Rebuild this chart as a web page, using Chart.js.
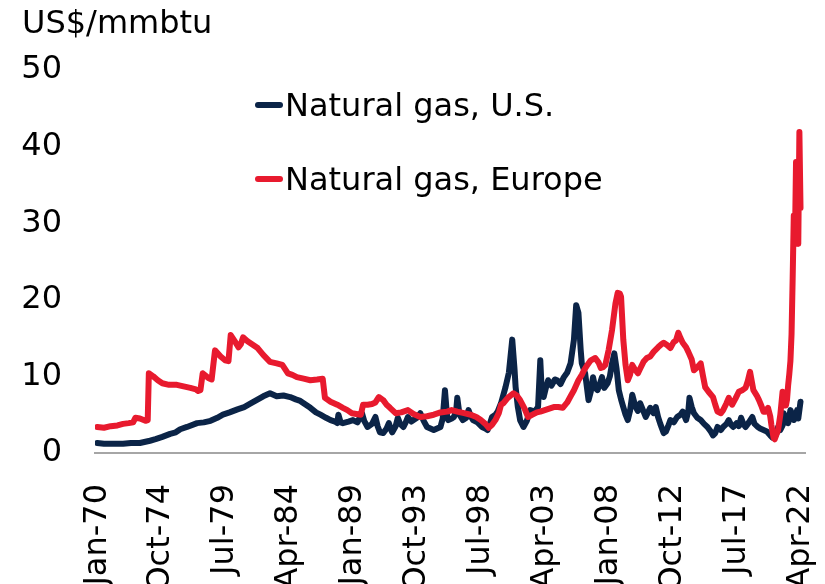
<!DOCTYPE html>
<html><head><meta charset="utf-8">
<script src="https://cdn.jsdelivr.net/npm/chart.js@4/dist/chart.umd.min.js"></script>
<style>html,body{margin:0;padding:0;background:#fff;}#wrap{width:825px;height:584px;position:relative;}</style>
</head><body><div id="wrap"><canvas id="c"></canvas></div>
<script>
const unitLabel = 'US$/mmbtu';
const seriesNames = ['Natural gas, U.S.', 'Natural gas, Europe'];
const tickMonths = [0, 57, 114, 171, 228, 285, 342, 399, 456, 513, 570, 627];
const tickLabels = ['Jan-70', 'Oct-74', 'Jul-79', 'Apr-84', 'Jan-89', 'Oct-93', 'Jul-98', 'Apr-03', 'Jan-08', 'Oct-12', 'Jul-17', 'Apr-22'];
const yTickValues = [0, 10, 20, 30, 40, 50];

// month index (0 = Jan-70) and US$/mmbtu
const usMonths = [0,6,12,23,30,38,47,52,58,65,70,74,80,89,95,101,107,112,118,125,131,136,142,148,154,160,166,172,177,181,186,190,195,199,204,208,212,214,215,217,219,224,228,232,236,238,241,245,248,250,252,255,258,260,262,263,266,268,270,273,275,277,280,282,285,288,291,294,297,300,303,306,308,310,312,313,316,318,320,321,323,326,329,331,333,335,339,343,346,348,350,352,355,357,360,364,367,370,372,373,375,377,380,383,386,390,393,395,396,398,400,402,405,408,410,413,416,419,422,425,427,429,431,432,435,438,440,442,444,446,448,450,452,455,457,459,461,463,465,467,469,471,473,475,477,479,480,482,484,486,489,491,493,496,498,500,502,505,507,509,511,514,517,520,522,525,527,528,530,532,535,538,541,544,547,549,551,553,556,558,561,563,565,567,570,572,574,576,578,581,584,586,589,591,594,597,600,602,604,606,607,609,611,612,614,616,618,620,621,623,624,625,627];
const usValues = [1.3,1.2,1.2,1.2,1.3,1.3,1.6,1.8,2.1,2.5,2.7,3.1,3.4,3.9,4.0,4.2,4.6,5.0,5.3,5.7,6.0,6.4,6.9,7.4,7.8,7.4,7.5,7.3,7.0,6.8,6.3,5.9,5.3,5.0,4.6,4.3,4.1,3.9,5.0,4.0,3.9,4.1,4.3,4.0,5.2,4.2,3.4,3.8,4.7,3.5,2.7,2.6,3.2,3.9,3.0,2.7,3.5,4.6,3.8,3.4,4.0,4.7,4.1,4.3,4.6,5.2,4.2,3.4,3.2,3.0,3.2,3.4,4.5,8.2,4.6,4.3,4.5,4.7,5.5,7.2,5.0,4.3,4.6,5.6,4.8,4.3,4.0,3.4,3.2,3.0,3.8,4.7,5.0,5.4,6.5,8.6,10.5,14.8,11.0,8.6,6.0,4.3,3.4,4.2,5.6,5.4,6.0,12.1,9.0,7.3,8.5,9.5,8.8,9.6,9.5,9.0,9.9,10.5,11.7,14.8,19.3,18.3,13.5,11.7,10.4,6.9,8.0,9.9,8.5,8.2,9.0,9.9,8.5,9.1,10.0,11.7,13.0,11.0,8.2,7.0,6.0,5.0,4.3,5.5,7.6,6.5,6.0,5.5,6.5,5.8,4.7,5.3,5.9,5.2,6.0,4.7,3.8,2.6,2.8,3.5,4.3,4.0,4.7,5.0,5.4,4.3,5.5,7.2,6.0,5.2,4.6,4.3,3.8,3.4,2.8,2.3,2.6,3.4,3.0,3.4,3.8,4.3,3.7,3.4,3.9,3.5,4.6,3.8,3.4,4.0,4.7,3.8,3.4,3.2,3.0,2.8,2.3,2.0,2.1,2.7,3.4,3.0,3.6,5.2,4.0,3.9,5.6,5.0,4.3,4.9,5.6,4.5,6.7];

const euMonths = [0,6,12,18,23,28,32,34,38,43,45,46,50,54,58,64,71,77,83,88,90,92,94,99,102,105,110,114,117,119,123,126,128,130,134,138,143,148,154,160,165,170,174,178,184,190,196,201,203,208,214,219,223,227,231,235,237,241,245,248,251,255,258,261,266,271,277,282,288,294,300,306,312,316,321,327,333,338,342,346,349,352,355,358,360,362,366,371,374,377,381,384,388,392,395,399,403,407,411,415,419,422,425,429,432,434,437,440,444,447,449,451,453,456,459,462,464,466,467,469,471,473,475,477,479,482,484,487,490,493,496,500,503,505,508,511,514,516,518,520,522,525,527,530,532,535,538,540,542,545,549,551,553,556,558,561,563,566,569,572,575,578,580,582,585,588,590,592,594,596,598,600,601,603,604,605,607,609,611,612,613,614,615,616,617,618,619,620,621,622,623,624,625,626,627];
const euValues = [3.4,3.3,3.5,3.6,3.8,3.9,4.0,4.6,4.5,4.2,4.3,10.4,10.0,9.5,9.1,8.9,8.9,8.7,8.5,8.3,8.1,8.2,10.4,9.8,9.6,13.4,12.6,12.1,12.0,15.4,14.5,13.8,14.2,15.1,14.6,14.2,13.7,12.8,11.9,11.7,11.5,10.4,10.2,9.9,9.7,9.5,9.6,9.7,7.2,6.7,6.3,5.9,5.6,5.2,5.1,5.0,6.3,6.3,6.4,6.6,7.3,6.9,6.3,5.9,5.2,5.3,5.6,5.1,4.7,4.8,5.0,5.3,5.4,5.6,5.4,5.2,5.0,4.7,4.3,3.8,3.3,3.7,4.3,5.2,6.3,6.5,7.2,7.8,7.5,6.9,5.8,4.7,5.0,5.3,5.4,5.6,5.8,6.0,6.0,5.9,6.6,7.4,8.2,9.5,10.2,10.8,11.5,12.1,12.4,11.8,11.1,11.2,11.5,13.5,16.1,19.5,20.9,20.8,20.4,14.8,11.5,9.5,10.2,11.5,11.0,10.4,11.0,11.9,12.4,12.6,13.2,13.8,14.2,14.4,14.1,13.7,14.5,14.7,15.7,15.0,14.4,13.8,13.2,12.2,10.8,11.2,11.7,10.1,8.6,8.0,7.3,6.3,5.4,5.2,5.6,6.5,7.2,6.3,7.1,8.0,8.2,8.5,9.4,10.6,8.2,7.5,6.9,6.2,5.4,5.4,5.9,4.8,3.7,2.0,1.8,2.2,3.0,5.0,8.0,7.6,6.2,6.2,7.0,8.9,10.3,12.0,15.5,22.8,31.0,27.4,38.0,28.5,27.3,41.9,32.0];

const FONT = '"DejaVu Sans", sans-serif';
const toPoints = (ms, vs) => ms.map((m, i) => ({ x: m, y: vs[i] }));

const overlay = {
  id: 'overlay',
  afterDraw(chart) {
    const ctx = chart.ctx;
    ctx.save();
    ctx.font = '32px ' + FONT;
    ctx.fillStyle = '#000';
    ctx.textAlign = 'left';
    ctx.textBaseline = 'alphabetic';
    ctx.fillText(unitLabel, 22, 33);
    const rows = [116, 190];
    [0, 1].forEach((i, r) => {
      const ds = chart.data.datasets[i];
      const y = rows[r];
      ctx.strokeStyle = ds.borderColor;
      ctx.lineWidth = 6;
      ctx.lineCap = 'round';
      ctx.beginPath();
      ctx.moveTo(258, y - 11);
      ctx.lineTo(280, y - 11);
      ctx.stroke();
      ctx.fillText(ds.label, 285, y);
    });
    ctx.restore();
  }
};

new Chart(document.getElementById('c'), {
  type: 'line',
  data: {
    datasets: [
      { label: seriesNames[0], data: toPoints(usMonths, usValues), borderColor: '#0b2447', borderWidth: 6, pointRadius: 0, tension: 0, borderJoinStyle: 'round', borderCapStyle: 'round', order: 1 },
      { label: seriesNames[1], data: toPoints(euMonths, euValues), borderColor: '#e81a2e', borderWidth: 6, pointRadius: 0, tension: 0, borderJoinStyle: 'round', borderCapStyle: 'round', order: 0 }
    ]
  },
  options: {
    responsive: true,
    maintainAspectRatio: false,
    animation: false,
    layout: { padding: { left: 22, right: 20, top: 70, bottom: 0 } },
    plugins: { legend: { display: false }, tooltip: { enabled: false } },
    scales: {
      x: {
        type: 'linear',
        min: -2,
        max: 631,
        afterBuildTicks: (axis) => { axis.ticks = tickMonths.map(v => ({ value: v })); },
        afterFit: (axis) => { axis.height = 131; axis.paddingLeft = 0; axis.paddingRight = 0; },
        ticks: {
          autoSkip: false,
          minRotation: 90,
          maxRotation: 90,
          padding: 31,
          color: '#000',
          font: { family: FONT, size: 32 },
          callback: (v) => { const i = tickMonths.indexOf(v); return i >= 0 ? tickLabels[i] : ''; }
        },
        grid: { display: false, drawTicks: false },
        border: { display: true, color: '#a6a6a6', width: 2 }
      },
      y: {
        min: 0,
        max: 50,
        afterBuildTicks: (axis) => { axis.ticks = yTickValues.map(v => ({ value: v })); },
        afterFit: (axis) => { axis.width = 73; axis.paddingTop = 0; axis.paddingBottom = 0; },
        ticks: { padding: 33, color: '#000', font: { family: FONT, size: 32 } },
        grid: { display: false, drawTicks: false },
        border: { display: false }
      }
    }
  },
  plugins: [overlay]
});
</script></body></html>
